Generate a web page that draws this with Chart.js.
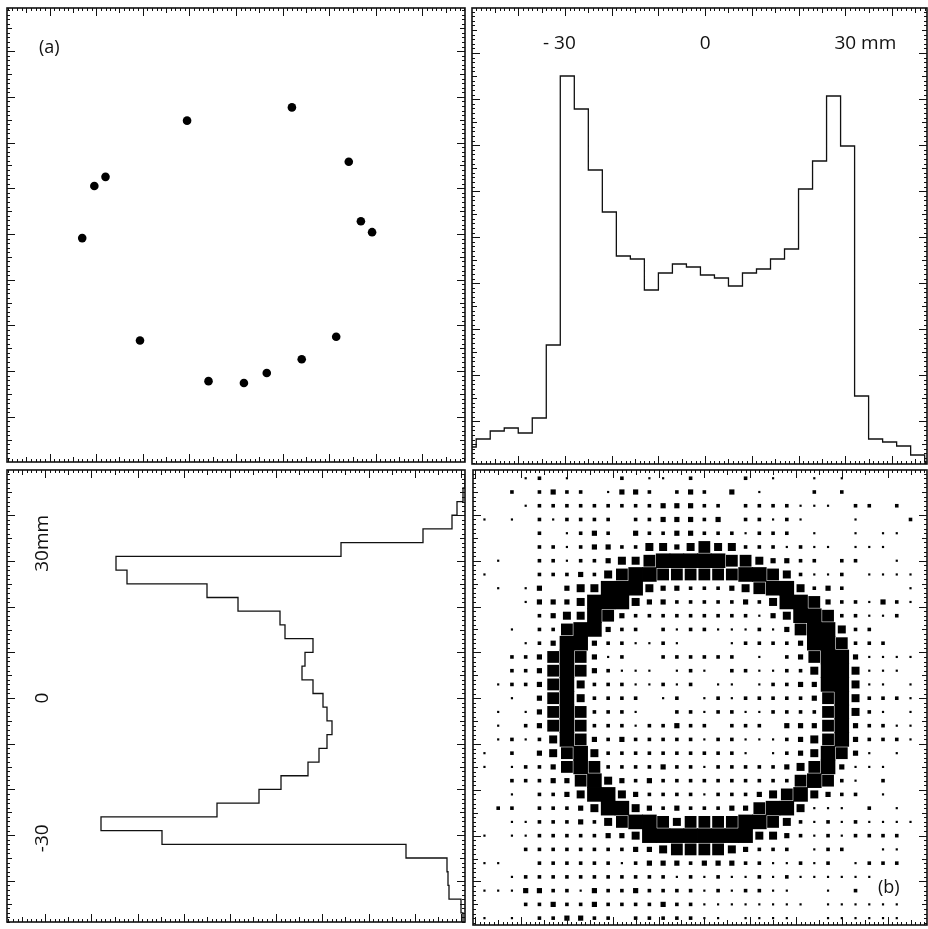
<!DOCTYPE html>
<html>
<head>
<meta charset="utf-8">
<script src="https://cdn.jsdelivr.net/npm/chart.js@4.4.0/dist/chart.umd.min.js"></script>
<style>
  html, body { margin: 0; padding: 0; background: #fff; overflow: hidden; }
  body { width: 928px; height: 929px; position: relative; }
  canvas { position: absolute; }
</style>
</head>
<body>
<canvas id="hits"></canvas>
<canvas id="projX"></canvas>
<canvas id="projY"></canvas>
<canvas id="image"></canvas>
<script>
// (a) single event: hit positions in mm
const hitX = [-10.5, 12.0, 24.2, -28.0, -30.4, 26.8, 29.2, -33.0, -20.6, 21.5, 14.1, 6.6, -5.9, 1.7];
const hitY = [24.8, 27.7, 15.8, 12.5, 10.5, 2.8, 0.4, -0.9, -23.3, -22.5, -27.4, -30.4, -32.2, -32.6];

// x projection, 3 mm bins starting at -52 mm
const binWidth = 3;
const xBinStart = -52;
const xCounts = [17, 25, 33, 36, 31, 46, 119, 388, 355, 294, 252, 208, 205, 174, 191, 200, 197,
                 189, 186, 178, 191, 195, 205, 215, 275, 303, 368, 318, 68, 25, 22, 18, 9, 2];

// y projection, 3 mm bins starting at -50 mm
const yBinStart = -50;
const yCounts = [2, 4, 16, 17, 18, 59, 303, 364, 248, 206, 184, 157, 146, 138, 133, 138, 142,
                 152, 163, 160, 152, 180, 185, 227, 258, 338, 349, 124, 42, 13, 8, 2, 0];

// axis labels
const tickValues = [-30, 0, 30];
const xTickLabels = ['- 30', '0', '30'];
const yTickLabels = ['-30', '0', '30'];
const unitLabel = 'mm';

// (b) accumulated image: 3 mm pixels, level 0..6, rows from +48 mm down, columns from -48 mm
const mapX0 = -48;
const mapY0 = 48;
const mapRows = [
  '0001201000 2011020002 0100101000 00',
  '0020232201 3320232030 1000202000 00',
  '0001222222 2223332202 2221110220 20',
  '1010212222 0223332302 2121000100 02',
  '0000201232 0322332221 2220100101 10',
  '0000221233 2244345442 2212110111 00',
  '0100221223 4456666655 4332202200 10',
  '1000222324 5665555556 6542112011 11',
  '0101303446 6643322234 5664232000 01',
  '0001333466 6433222223 2466532213 21',
  '0000234465 3222222222 1346652211 20',
  '0010225663 2202122111 2135664220 00',
  '0001236632 2112100012 2223665222 00',
  '0022356531 2002222220 1023566311 11',
  '0022356532 1110121022 1122466411 10',
  '0122356422 2112120110 1223366411 01',
  '0010356422 2201201212 2222356422 21',
  '0101356522 2100221221 1222256421 01',
  '0102356522 2122322022 2033356322 11',
  '0121246532 3222221221 1123456322 21',
  '1020345642 2222222221 0123465310 10',
  '1012235652 2223221222 2234563111 00',
  '0022233564 3232222222 2225652102 00',
  '0010223466 4322221222 3456432201 00',
  '0220222346 6432322233 5664111020 10',
  '0011222324 5665455556 6542121211 11',
  '1011222223 3466666666 4432121222 20',
  '0002222222 2334555543 2220122001 10',
  '1100222222 1233323332 2112120122 20',
  '0012222222 2222121211 2121111110 00',
  '1113322132 2322221212 2110010200 00',
  '0002232232 2223221111 1111011111 10',
  '1010223322 0222221101 1110011111 10'
];

const INK = '#111';
const PAD = 3;
const FONT = '"Open Sans", "Liberation Sans", sans-serif';
const squareSide = [0, 2.2, 3.6, 5.2, 8, 11.8, 14.6];

// histogram outline as corner points
function stepPoints(start, counts, alongX) {
  const pts = [];
  counts.forEach((c, k) => {
    const lo = start + k * binWidth, hi = lo + binWidth;
    if (alongX) pts.push({x: lo, y: c}, {x: hi, y: c});
    else pts.push({x: c, y: lo}, {x: c, y: hi});
  });
  return pts;
}

function tickLen(v) {
  if (v % 10 === 0) return 8;
  if (v % 5 === 0) return 5;
  return 3;
}

// box frame with inward mm ticks on all four sides
function framePlugin(xKey, yKey, drawText) {
  return {
    id: 'frame',
    afterDraw(chart) {
      const ctx = chart.ctx, a = chart.chartArea;
      const sx = chart.scales[xKey], sy = chart.scales[yKey];
      ctx.save();
      ctx.strokeStyle = INK;
      ctx.lineWidth = 1;
      ctx.beginPath();
      for (let v = Math.ceil(sx.min); v <= sx.max; v++) {
        const p = Math.round(sx.getPixelForValue(v)) + 0.5, len = tickLen(v);
        ctx.moveTo(p, a.top); ctx.lineTo(p, a.top + len);
        ctx.moveTo(p, a.bottom); ctx.lineTo(p, a.bottom - len);
      }
      for (let v = Math.ceil(sy.min); v <= sy.max; v++) {
        const p = Math.round(sy.getPixelForValue(v)) + 0.5, len = tickLen(v);
        ctx.moveTo(a.left, p); ctx.lineTo(a.left + len, p);
        ctx.moveTo(a.right, p); ctx.lineTo(a.right - len, p);
      }
      ctx.stroke();
      ctx.lineWidth = 1.6;
      ctx.strokeRect(a.left, a.top, a.right - a.left, a.bottom - a.top);
      ctx.fillStyle = INK;
      if (drawText) drawText(chart, ctx, a);
      ctx.restore();
    }
  };
}

function makeChart(id, box, datasets, scales, plugin) {
  const cv = document.getElementById(id);
  cv.width = box.w + 2 * PAD;
  cv.height = box.h + 2 * PAD;
  cv.style.left = (box.l - PAD) + 'px';
  cv.style.top = (box.t - PAD) + 'px';
  return new Chart(cv, {
    type: 'scatter',
    data: { datasets },
    options: {
      responsive: false,
      animation: false,
      events: [],
      layout: { padding: PAD, autoPadding: false },
      plugins: { legend: { display: false }, tooltip: { enabled: false } },
      scales
    },
    plugins: [plugin]
  });
}

const lin = (min, max, extra) => Object.assign({ type: 'linear', min, max, display: false }, extra || {});

// (a)
makeChart('hits', { l: 7, t: 8, w: 458, h: 454 },
  [{
    data: hitX.map((x, k) => ({ x, y: hitY[k] })),
    pointRadius: 4.3,
    pointBackgroundColor: '#000',
    pointBorderWidth: 0
  }],
  { x: lin(-49.14, 49.14), y: lin(-49.89, 49.45) },
  framePlugin('x', 'y', (chart, ctx, a) => {
    ctx.font = '18px ' + FONT;
    ctx.textBaseline = 'alphabetic';
    ctx.fillText('(a)', a.left + 32, a.top + 45);
  })
);

// x projection
makeChart('projX', { l: 472, t: 8, w: 455, h: 456 },
  [{
    data: stepPoints(xBinStart, xCounts, true),
    showLine: true,
    borderColor: INK,
    borderWidth: 1.3,
    pointRadius: 0
  }],
  { x: lin(-49.9, 47.5), y: lin(0, 456), ty: lin(-49.3, 49.8, { axis: 'y' }) },
  framePlugin('x', 'ty', (chart, ctx, a) => {
    const sx = chart.scales.x;
    ctx.font = '19px ' + FONT;
    ctx.textBaseline = 'alphabetic';
    ctx.textAlign = 'left';
    tickValues.forEach((v, k) => {
      const lab = xTickLabels[k];
      const digits = lab.replace(/^-\s*/, '');
      const pre = lab.slice(0, lab.length - digits.length);
      const x0 = sx.getPixelForValue(v) - ctx.measureText(digits).width / 2 - ctx.measureText(pre).width;
      const text = k === tickValues.length - 1 ? lab + ' ' + unitLabel : lab;
      ctx.fillText(text, x0, a.top + 41);
    });
  })
);

// y projection, baseline on the right
makeChart('projY', { l: 7, t: 470, w: 458, h: 452 },
  [{
    data: stepPoints(yBinStart, yCounts, false),
    showLine: true,
    borderColor: INK,
    borderWidth: 1.3,
    pointRadius: 0
  }],
  { x: lin(0, 458, { reverse: true }), y: lin(-49.0, 49.9), tx: lin(-48.3, 50.9, { axis: 'x' }) },
  framePlugin('tx', 'y', (chart, ctx, a) => {
    const sy = chart.scales.y;
    ctx.font = '19px ' + FONT;
    ctx.textBaseline = 'alphabetic';
    ctx.textAlign = 'left';
    tickValues.forEach((v, k) => {
      const lab = yTickLabels[k];
      const digits = lab.replace(/^-\s*/, '');
      const pre = lab.slice(0, lab.length - digits.length);
      const off = ctx.measureText(digits).width / 2 + ctx.measureText(pre).width;
      const text = k === tickValues.length - 1 ? lab + unitLabel : lab;
      ctx.save();
      ctx.translate(a.left + 41, sy.getPixelForValue(v));
      ctx.rotate(-Math.PI / 2);
      ctx.fillText(text, -off, 0);
      ctx.restore();
    });
  })
);

// (b) image as squares sized by level
const mapPoints = [];
mapRows.forEach((row, j) => {
  row.replace(/\s/g, '').split('').forEach((ch, i) => {
    const level = +ch;
    if (level > 0) mapPoints.push({ x: mapX0 + i * binWidth, y: mapY0 - j * binWidth, level });
  });
});

makeChart('image', { l: 473, t: 470, w: 454, h: 455 },
  [{
    data: mapPoints,
    pointStyle: 'rect',
    pointRadius: c => squareSide[c.raw.level] / Math.SQRT2,
    pointBackgroundColor: '#000',
    pointBorderWidth: 0
  }],
  { x: lin(-50.5, 48.6), y: lin(-49.5, 49.8) },
  framePlugin('x', 'y', (chart, ctx, a) => {
    ctx.font = '18px ' + FONT;
    ctx.textBaseline = 'alphabetic';
    ctx.fillText('(b)', a.left + 405, a.top + 423);
  })
);
</script>
</body>
</html>
